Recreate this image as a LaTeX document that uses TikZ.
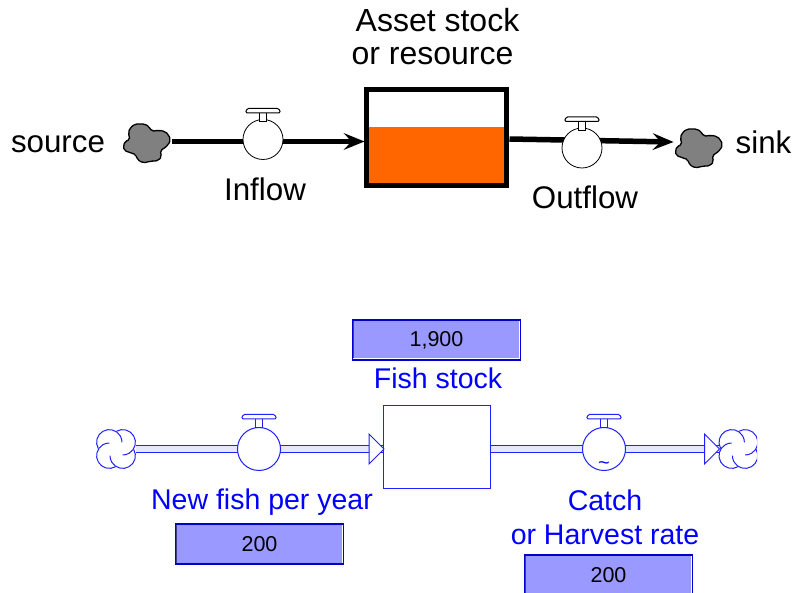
\documentclass[tikz,border=0pt]{standalone}
\usepackage{fontspec}
\setmainfont{Liberation Sans}
\usetikzlibrary{arrows.meta,backgrounds}
\definecolor{vblue}{HTML}{0000FF}
\definecolor{lineblue}{HTML}{2020FF}
\definecolor{boxfill}{HTML}{9999FF}
\definecolor{boxedge}{HTML}{0000CC}
\definecolor{boxshade}{HTML}{404080}
\definecolor{stockorange}{HTML}{FF6600}
\definecolor{cloudgray}{HTML}{808080}
\tikzset{
  x=1pt,y=-1pt,
  every node/.style={font=\fontsize{31.3}{33}\selectfont,inner sep=0pt,outer sep=0pt},
  blacktext/.style={text=black,align=center},
  bluetext/.style={text=vblue,font=\fontsize{28.5}{34.5}\selectfont,align=center},
  anchorpt/.style={minimum width=#1,minimum height=#1,draw=none,fill=none},
  valveb/.style={circle,draw=black,line width=0.8pt,fill=white,minimum size=40pt},
  valveu/.style={circle,draw=lineblue,line width=1pt,fill=white,minimum size=43pt},
  flowb/.style={draw=black,line width=5.5pt,-{Stealth[length=21pt,width=17pt,inset=8pt,line width=0pt]}},
  pipe/.style={draw=lineblue,line width=1pt,double=white!75!boxfill,double distance=5.8pt},
  valuebox/.style={minimum width=168pt,minimum height=40pt,fill=boxfill,draw=boxedge,line width=1.3pt,
    font=\fontsize{21.5}{24}\selectfont,text=black,
    path picture={
      \draw[boxshade,line width=2pt] (path picture bounding box.south west) -- (path picture bounding box.north west) -- (path picture bounding box.north east);
      \draw[white,line width=3pt] (path picture bounding box.south west) -- (path picture bounding box.south east) -- (path picture bounding box.north east);
    }},
  pics/graycloud/.style={code={
    \draw[scale=1/3,fill=cloudgray,draw=black,line width=1.3pt,rounded corners=2pt]
      (-71,10) -- (-66,-5) -- (-51,-10) -- (-56,-30) -- (-51,-45) -- (-36,-57) -- (-6,-57) -- (7,-48) -- (14,-35) -- (34,-38) -- (54,-35) -- (64,-25) -- (71,-10) -- (64,5) -- (49,18) -- (39,23) -- (44,40) -- (34,53) -- (9,55) -- (-11,60) -- (-29,50) -- (-33,35) -- (-56,27) -- (-69,22) -- cycle;
  }},
  pics/valvetop/.style={code={
    \draw[#1,fill=white,line width=1pt] (-3.7,-30) rectangle (3.7,-21);
    \draw[#1,fill=white,line width=1pt,rounded corners=1.5pt] (-17.5,-30) -- (-16,-34.5) -- (16,-34.5) -- (17.5,-30) -- cycle;
  }},
  pics/bluecloud/.style={code={
    \foreach \r in {0,90,180,270}{
      \begin{scope}[rotate=\r]
        \draw[lineblue,line width=1pt] (0.35,-17.7) arc[start angle=-120,end angle=90,radius=12.7];
      \end{scope}
    }
  }},
}
\begin{document}
\begin{tikzpicture}
\useasboundingbox (0,0) rectangle (793,593);
% upper diagram
\path (147,143) pic {graycloud};
\path (699,148) pic {graycloud};
\node[anchorpt=1pt] (src) at (171,141.5) {};
\node[anchorpt=1pt] (snk) at (674,142) {};
\node[draw=black,line width=5pt,fill=white,minimum width=140pt,minimum height=96pt] (tank) at (436.5,138) {};
\fill[stockorange] (367.5,127) rectangle (506.5,185.5);
\draw[black,line width=5pt] (tank.north west) rectangle (tank.south east);
\node[anchorpt=1pt] (tankin) at (365,141.5) {};
\node[anchorpt=1pt] (tankout) at (509,139) {};
\node[valveb] (v1) at (263,139.5) {};
\node[valveb] (v2) at (582,148) {};
\begin{pgfonlayer}{background}
  \draw[flowb] (src) -- (tankin);
  \draw[flowb] (tankout) -- (snk);
\end{pgfonlayer}
\path (v1.center) ++(0,3.5) pic {valvetop={black}};
\path (v2.center) ++(0,3.5) pic {valvetop={black}};
\node[blacktext] (lblsource) at (58,144) {source};
\node[blacktext] (lblsink) at (763.5,142) {sink};
\node[blacktext] (lblinflow) at (265,189) {Inflow};
\node[blacktext] (lbloutflow) at (585,197) {Outflow};
\node[blacktext,font=\fontsize{32}{33}\selectfont] (lblstock) at (435,37) {\hspace*{5pt}Asset stock\\or resource\hspace*{5pt}};
% lower diagram
\path (116,449) pic {bluecloud};
\begin{scope}
  \clip (700,420) rectangle (757,480);
  \path (738.4,449) pic {bluecloud};
\end{scope}
\node[anchorpt=1pt] (cl) at (135,449) {};
\node[anchorpt=1pt] (cr) at (720,449) {};
\node[draw=lineblue,line width=0.8pt,fill=white,minimum width=107pt,minimum height=83pt] (stock) at (436.5,446.5) {};
\node[anchorpt=0.1pt] (stockin) at (384,449) {};
\node[anchorpt=0.1pt] (stockout) at (490,449) {};
\begin{pgfonlayer}{background}
  \draw[pipe] (cl) -- (stockin);
  \draw[pipe] (stockout) -- (cr);
\end{pgfonlayer}
\draw[lineblue,line width=1pt,fill=white] (369,434) -- (384,449) -- (369,464) -- cycle;
\draw[lineblue,line width=1pt,fill=white] (704.5,434) -- (719.5,449) -- (704.5,464) -- cycle;
\node[valveu] (v3) at (259,449) {};
\node[valveu] (v4) at (604,449) {};
\path (v3.center) pic {valvetop={lineblue}};
\path (v4.center) pic {valvetop={lineblue}};
\node[font=\fontsize{20}{24}\selectfont,text=vblue] (tilde) at (604,465.5) {\char`\~};
\node[valuebox] (b1) at (436.5,340) {1,900};
\node[valuebox] (b2) at (259.5,544) {200};
\node[valuebox] (b3) at (608.5,575) {200};
\node[bluetext] (lfish) at (438,378) {Fish stock};
\node[bluetext] (lnew) at (262,502) {New fish per year};
\node[bluetext] (lcatch) at (605,517.5) {Catch\\or Harvest rate};
\end{tikzpicture}
\end{document}
